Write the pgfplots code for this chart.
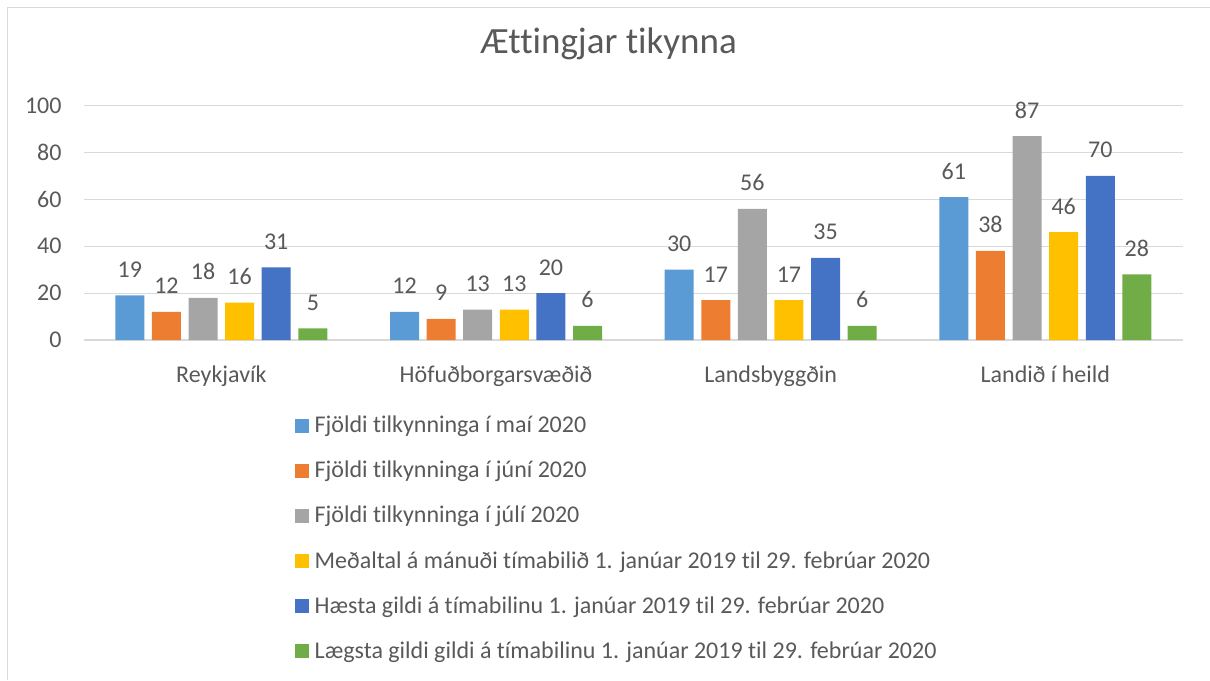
\documentclass[border=0pt]{standalone}
\usepackage{pgfplots}
\pgfplotsset{compat=1.18}
\usepackage{fontspec}
\setmainfont{Carlito}[Ligatures=NoCommon]
\definecolor{txt}{HTML}{595959}
\definecolor{gridc}{HTML}{D9D9D9}
\definecolor{cA}{HTML}{5B9BD5}
\definecolor{cB}{HTML}{ED7D31}
\definecolor{cC}{HTML}{A5A5A5}
\definecolor{cD}{HTML}{FFC000}
\definecolor{cE}{HTML}{4472C4}
\definecolor{cF}{HTML}{70AD47}
\newcommand{\tfont}{\fontsize{24}{28}\selectfont}
\begin{document}
\begin{tikzpicture}
\useasboundingbox (0pt,0pt) rectangle (1210pt,680pt);
\draw[gridc, line width=1.2pt] (7.5pt,0pt) -- (7.5pt,672.5pt) -- (1210pt,672.5pt);
\node[anchor=base, text=txt, font=\fontsize{37}{42}\selectfont, inner sep=0pt] at (608.7pt,626.7pt) {Ættingjar tikynna};
\begin{axis}[
  at={(84pt,340pt)}, anchor=south west,
  scale only axis, width=1098.7pt, height=234.3pt,
  xmin=-0.5, xmax=3.5, ymin=0, ymax=100,
  ybar=7.6pt, bar width=29pt,
  clip=false,
  axis y line*=left, axis x line*=bottom,
  y axis line style={draw=none},
  x axis line style={gridc, line width=1.2pt},
  ymajorgrids, grid style={gridc, line width=1.2pt},
  xtick={0,1,2,3},
  xticklabels={Reykjavík, Höfuðborgarsvæðið, Landsbyggðin, Landið í heild},
  ytick={0,20,40,60,80,100},
  tick style={draw=none},
  xticklabel style={anchor=base, inner sep=0pt, yshift=-38.3pt, text=txt, font=\tfont},
  yticklabel style={anchor=east, inner sep=0pt, xshift=-22.3pt, text=txt, font=\tfont},
  /pgf/number format/assume math mode=true,
  nodes near coords,
  every node near coord/.append style={anchor=base, inner sep=0pt, yshift=18pt, text=txt, font=\tfont},
  legend cell align=left,
  legend image code/.code={\fill[#1,draw=none] (0pt,0pt) rectangle (14pt,14pt);},
  legend style={draw=none, fill=none, inner sep=0pt, outer sep=0pt,
    at={(0.19204,-0.3359)}, anchor=north west,
    row sep=31.1pt, column sep=5.7pt,
    font=\fontsize{24}{28}\selectfont, text=txt,
    nodes={inner sep=0pt, text height=14pt, text depth=0pt, anchor=base west}},
]
\addplot[fill=cA, draw=none] coordinates {(0,19) (1,12) (2,30) (3,61)};
\addplot[fill=cB, draw=none] coordinates {(0,12) (1,9) (2,17) (3,38)};
\addplot[fill=cC, draw=none] coordinates {(0,18) (1,13) (2,56) (3,87)};
\addplot[fill=cD, draw=none] coordinates {(0,16) (1,13) (2,17) (3,46)};
\addplot[fill=cE, draw=none] coordinates {(0,31) (1,20) (2,35) (3,70)};
\addplot[fill=cF, draw=none] coordinates {(0,5) (1,6) (2,6) (3,28)};
\legend{Fjöldi tilkynninga í maí 2020,
Fjöldi tilkynninga í júní 2020,
Fjöldi tilkynninga í júlí 2020,
Meðaltal á mánuði tímabilið 1. janúar 2019 til 29. febrúar 2020,
Hæsta gildi á tímabilinu 1. janúar 2019 til 29. febrúar 2020,
Lægsta gildi gildi á tímabilinu 1. janúar 2019 til 29. febrúar 2020}
\end{axis}
\end{tikzpicture}
\end{document}
